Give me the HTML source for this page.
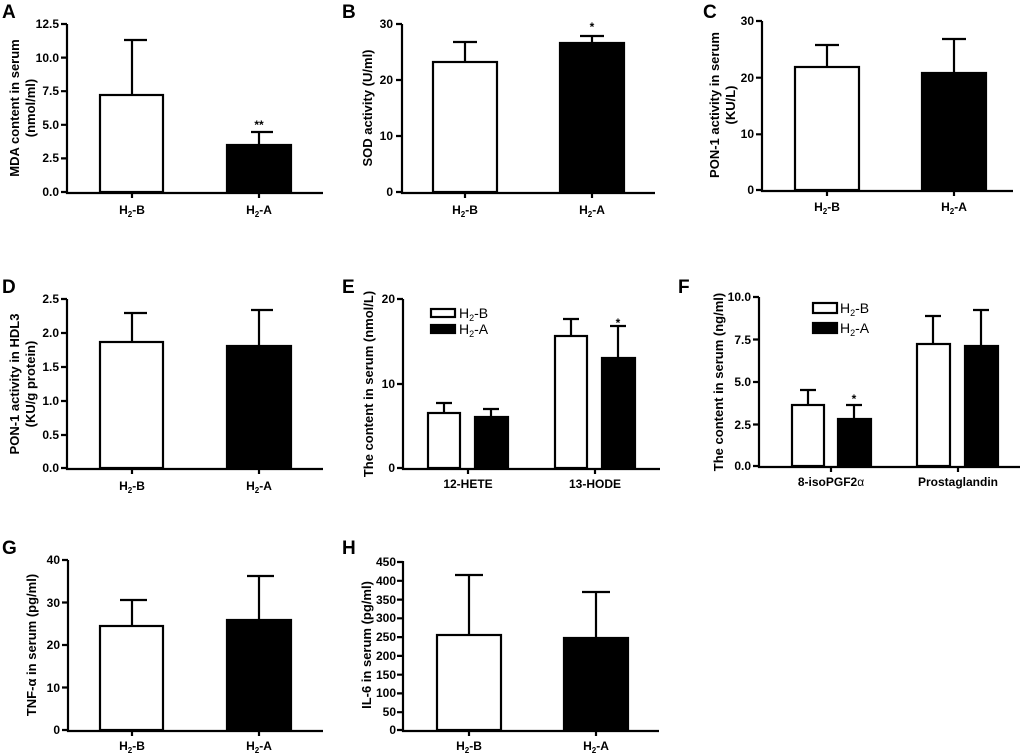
<!DOCTYPE html>
<html><head><meta charset="utf-8"><style>
body{margin:0;background:#fff}
svg{display:block}
text{font-family:"Liberation Sans",Arial,sans-serif;font-weight:bold;fill:#000}
.t{font-size:12px}
.a{font-size:13px}
.L{font-size:19px}
.lg{font-size:14px;font-weight:normal}
line,path,rect{stroke:#000;stroke-width:2.2;}
</style></head><body>
<svg width="1024" height="754" viewBox="0 0 1024 754" xmlns="http://www.w3.org/2000/svg">
<!-- A -->
<text class="L" x="2" y="18">A</text>
<g fill="none">
<path d="M67 24V193H323M61 24H67M61 57.6H67M61 91.2H67M61 124.8H67M61 158.4H67M61 192H67M132 193v5M259 193v5"/>
<rect x="100" y="95" width="63" height="97" fill="#fff"/>
<rect x="227" y="145" width="64" height="47" fill="#000"/>
<path d="M132 95V40M124 40H147M259 145V132M251 132H273"/>
</g>
<g class="t" text-anchor="end"><text x="59" y="28">12.5</text><text x="59" y="62">10.0</text><text x="59" y="95">7.5</text><text x="59" y="129">5.0</text><text x="59" y="162">2.5</text><text x="59" y="196">0.0</text></g>
<text class="t" x="259" y="129" text-anchor="middle">**</text>
<g class="t" text-anchor="middle"><text x="132" y="214">H<tspan font-size="8" dy="3">2</tspan><tspan dy="-3">-B</tspan></text><text x="259" y="214">H<tspan font-size="8" dy="3">2</tspan><tspan dy="-3">-A</tspan></text></g>
<text class="a" transform="translate(19 108) rotate(-90)" text-anchor="middle">MDA content  in serum</text>
<text class="a" transform="translate(35 108) rotate(-90)" text-anchor="middle">(nmol/ml)</text>

<!-- B -->
<text class="L" x="342" y="18">B</text>
<g fill="none">
<path d="M402 24V193H655M396 24H402M396 80H402M396 136H402M396 192H402M465 193v5M592 193v5"/>
<rect x="433" y="62" width="64" height="130" fill="#fff"/>
<rect x="560" y="43" width="64" height="149" fill="#000"/>
<path d="M465 62V42M453 42H477M592 43V36M580 36H604"/>
</g>
<g class="t" text-anchor="end"><text x="393" y="28">30</text><text x="393" y="84">20</text><text x="393" y="140">10</text><text x="393" y="196">0</text></g>
<text class="t" x="592" y="31" text-anchor="middle">*</text>
<g class="t" text-anchor="middle"><text x="465" y="214">H<tspan font-size="8" dy="3">2</tspan><tspan dy="-3">-B</tspan></text><text x="592" y="214">H<tspan font-size="8" dy="3">2</tspan><tspan dy="-3">-A</tspan></text></g>
<text class="a" transform="translate(372 108) rotate(-90)" text-anchor="middle">SOD activity (U/ml)</text>

<!-- C -->
<text class="L" x="703" y="18">C</text>
<g fill="none">
<path d="M762 21V191H1013M756 21H762M756 77.7H762M756 134.3H762M756 190H762M827 191v5M954 191v5"/>
<rect x="795" y="67" width="64" height="123" fill="#fff"/>
<rect x="922" y="73" width="64" height="117" fill="#000"/>
<path d="M827 67V45M815 45H839M954 73V39M942 39H966"/>
</g>
<g class="t" text-anchor="end"><text x="754" y="25">30</text><text x="754" y="82">20</text><text x="754" y="138">10</text><text x="754" y="194">0</text></g>
<g class="t" text-anchor="middle"><text x="827" y="211">H<tspan font-size="8" dy="3">2</tspan><tspan dy="-3">-B</tspan></text><text x="954" y="211">H<tspan font-size="8" dy="3">2</tspan><tspan dy="-3">-A</tspan></text></g>
<text class="a" transform="translate(719 105) rotate(-90)" text-anchor="middle">PON-1 activity in serum</text>
<text class="a" transform="translate(735 105) rotate(-90)" text-anchor="middle">(KU/L)</text>

<!-- D -->
<text class="L" x="2" y="293">D</text>
<g fill="none">
<path d="M67 299V469H323M61 299H67M61 333H67M61 367H67M61 401H67M61 435H67M61 468H67M132 469v5M259 469v5"/>
<rect x="100" y="342" width="63" height="126" fill="#fff"/>
<rect x="227" y="346" width="64" height="122" fill="#000"/>
<path d="M132 342V313M124 313H147M259 346V310M251 310H273"/>
</g>
<g class="t" text-anchor="end"><text x="59" y="303">2.5</text><text x="59" y="337">2.0</text><text x="59" y="371">1.5</text><text x="59" y="405">1.0</text><text x="59" y="439">0.5</text><text x="59" y="472">0.0</text></g>
<g class="t" text-anchor="middle"><text x="132" y="490">H<tspan font-size="8" dy="3">2</tspan><tspan dy="-3">-B</tspan></text><text x="259" y="490">H<tspan font-size="8" dy="3">2</tspan><tspan dy="-3">-A</tspan></text></g>
<text class="a" transform="translate(19 384) rotate(-90)" text-anchor="middle">PON-1 activity in HDL3</text>
<text class="a" transform="translate(35 384) rotate(-90)" text-anchor="middle">(KU/g protein)</text>

<!-- E -->
<text class="L" x="342" y="293">E</text>
<g fill="none">
<path d="M403 299V469H660M397 299H403M397 384H403M397 468H403M468 469v5M595 469v5"/>
<rect x="428" y="413" width="32" height="55" fill="#fff"/>
<rect x="475" y="417" width="33" height="51" fill="#000"/>
<rect x="555" y="336" width="32" height="132" fill="#fff"/>
<rect x="602" y="358" width="33" height="110" fill="#000"/>
<path d="M444 413V403M436 403H452M491 417V409M483 409H499M571 336V319M563 319H579M618 358V326M610 326H626"/>
<rect x="431" y="309" width="24" height="8" fill="#fff"/>
<rect x="431" y="325" width="24" height="8" fill="#000"/>
</g>
<text class="lg" x="459" y="318">H<tspan font-size="9" dy="3">2</tspan><tspan dy="-3">-B</tspan></text><text class="lg" x="459" y="334">H<tspan font-size="9" dy="3">2</tspan><tspan dy="-3">-A</tspan></text>
<g class="t" text-anchor="end"><text x="395" y="303">20</text><text x="395" y="388">10</text><text x="395" y="472">0</text></g>
<text class="t" x="618" y="327" text-anchor="middle">*</text>
<g class="t" text-anchor="middle"><text x="468" y="488">12-HETE</text><text x="595" y="488">13-HODE</text></g>
<text class="a" transform="translate(373 384) rotate(-90)" text-anchor="middle">The content in serum (nmol/L)</text>

<!-- F -->
<text class="L" x="678" y="293">F</text>
<g fill="none">
<path d="M759 297V467H1020M753 297H759M753 339.5H759M753 382H759M753 424.5H759M753 466H759M831 467v5M958 467v5"/>
<rect x="792" y="405" width="32" height="61" fill="#fff"/>
<rect x="838" y="419" width="33" height="47" fill="#000"/>
<rect x="917" y="344" width="33" height="122" fill="#fff"/>
<rect x="965" y="346" width="33" height="120" fill="#000"/>
<path d="M808 405V390M800 390H816M854 419V405M846 405H862M933 344V316M925 316H941M981 346V310M973 310H989"/>
<rect x="813" y="303" width="24" height="10" fill="#fff"/>
<rect x="813" y="323" width="24" height="10" fill="#000"/>
</g>
<text class="lg" x="840" y="313">H<tspan font-size="9" dy="3">2</tspan><tspan dy="-3">-B</tspan></text><text class="lg" x="840" y="333">H<tspan font-size="9" dy="3">2</tspan><tspan dy="-3">-A</tspan></text>
<g class="t" text-anchor="end"><text x="751" y="301">10.0</text><text x="751" y="344">7.5</text><text x="751" y="386">5.0</text><text x="751" y="429">2.5</text><text x="751" y="470">0.0</text></g>
<text class="t" x="854" y="403" text-anchor="middle">*</text>
<g class="t" text-anchor="middle"><text x="831" y="486">8-isoPGF2<tspan font-weight="normal">α</tspan></text><text x="958" y="486">Prostaglandin</text></g>
<text class="a" transform="translate(723 382) rotate(-90)" text-anchor="middle">The content in serum (ng/ml)</text>

<!-- G -->
<text class="L" x="2" y="554">G</text>
<g fill="none">
<path d="M68 560V731H323M62 560H68M62 602.5H68M62 645H68M62 687.5H68M62 730H68M132 731v5M259 731v5"/>
<rect x="100" y="626" width="63" height="104" fill="#fff"/>
<rect x="227" y="620" width="64" height="110" fill="#000"/>
<path d="M132 626V600M120 600H147M259 620V576M247 576H274"/>
</g>
<g class="t" text-anchor="end"><text x="60" y="564">40</text><text x="60" y="607">30</text><text x="60" y="649">20</text><text x="60" y="692">10</text><text x="60" y="734">0</text></g>
<g class="t" text-anchor="middle"><text x="132" y="750">H<tspan font-size="8" dy="3">2</tspan><tspan dy="-3">-B</tspan></text><text x="259" y="750">H<tspan font-size="8" dy="3">2</tspan><tspan dy="-3">-A</tspan></text></g>
<text class="a" transform="translate(36 645) rotate(-90)" text-anchor="middle">TNF-α in serum (pg/ml)</text>

<!-- H -->
<text class="L" x="342" y="554">H</text>
<g fill="none">
<path d="M403 561V731H659M397 562H403M397 580.8H403M397 599.6H403M397 618.3H403M397 637.1H403M397 655.9H403M397 674.7H403M397 693.4H403M397 712.2H403M397 730H403M469 731v5M596 731v5"/>
<rect x="437" y="635" width="64" height="95" fill="#fff"/>
<rect x="564" y="638" width="64" height="92" fill="#000"/>
<path d="M469 635V575M455 575H483M596 638V592M582 592H610"/>
</g>
<g class="t" text-anchor="end"><text x="396" y="566">450</text><text x="396" y="585">400</text><text x="396" y="604">350</text><text x="396" y="622">300</text><text x="396" y="641">250</text><text x="396" y="660">200</text><text x="396" y="679">150</text><text x="396" y="697">100</text><text x="396" y="716">50</text><text x="396" y="734">0</text></g>
<g class="t" text-anchor="middle"><text x="469" y="750">H<tspan font-size="8" dy="3">2</tspan><tspan dy="-3">-B</tspan></text><text x="596" y="750">H<tspan font-size="8" dy="3">2</tspan><tspan dy="-3">-A</tspan></text></g>
<text class="a" transform="translate(371 645) rotate(-90)" text-anchor="middle">IL-6 in serum (pg/ml)</text>
</svg>
</body></html>
